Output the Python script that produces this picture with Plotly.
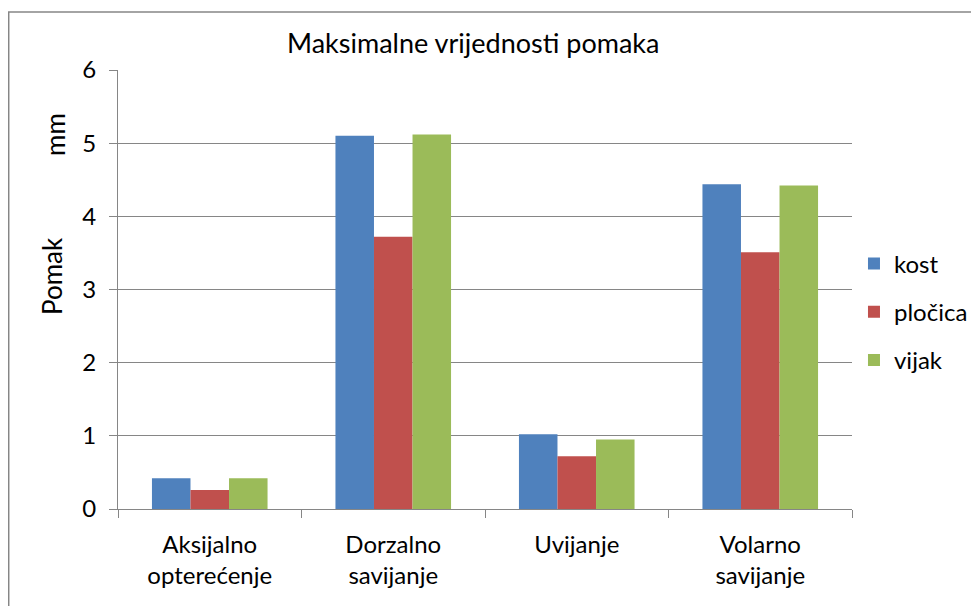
import plotly.graph_objects as go

categories = ["Aksijalno<br>opterećenje", "Dorzalno<br>savijanje", "Uvijanje", "Volarno<br>savijanje"]
series_names = ["kost", "pločica", "vijak"]
kost = [0.42, 5.10, 1.02, 4.44]
plocica = [0.26, 3.72, 0.72, 3.51]
vijak = [0.42, 5.12, 0.95, 4.42]
colors = ["#4F81BD", "#C0504D", "#9BBB59"]
y_ticks = [0, 1, 2, 3, 4, 5, 6]

FONT = "Lato"
GRAY = "#868686"

fig = go.Figure()
for i, (name, vals) in enumerate(zip(series_names, [kost, plocica, vijak])):
    fig.add_trace(go.Bar(
        x=categories, y=vals, name=name,
        marker=dict(color=colors[i], line=dict(width=0)),
        legendgroup=name,
    ))

# page body has an 8px margin, so the figure is 8px smaller and margins shifted
fig.update_layout(
    width=971, height=598, autosize=False,
    margin=dict(l=110, r=127, t=62, b=97, autoexpand=False),
    paper_bgcolor="white", plot_bgcolor="white",
    font=dict(family=FONT, size=24, color="#000000"),
    barmode="group", bargap=0.37, bargroupgap=0,
    showlegend=True,
    legend=dict(x=1.0027, xanchor="left", y=0.449, yanchor="middle",
                font=dict(family=FONT, size=24), tracegroupgap=14,
                bgcolor="rgba(0,0,0,0)", itemwidth=30),
    xaxis=dict(
        type="category", showgrid=False, showline=True, linecolor=GRAY, linewidth=1,
        ticks="outside", tickson="boundaries", ticklen=8, tickcolor=GRAY, tickwidth=1,
        tickfont=dict(family=FONT, size=24), fixedrange=True, ticklabelstandoff=14,
    ),
    yaxis=dict(
        range=[0, 6], tickvals=y_ticks, showgrid=True, gridcolor=GRAY, gridwidth=1,
        showline=True, linecolor=GRAY, linewidth=1, zeroline=False,
        ticks="outside", ticklen=8, tickcolor=GRAY, tickwidth=1,
        tickfont=dict(family=FONT, size=24), fixedrange=True, ticklabelstandoff=8,
    ),
    shapes=[dict(type="rect", xref="paper", yref="paper",
                 x0=-0.1489, x1=1.181, y0=-0.2415, y1=1.1321,
                 line=dict(color=GRAY, width=1.5), fillcolor="rgba(0,0,0,0)", layer="below")],
    annotations=[
        dict(text="Maksimalne vrijednosti pomaka", xref="paper", yref="paper",
             x=0.4837, y=(509 - 43) / 439, xanchor="center", yanchor="middle",
             showarrow=False, font=dict(family=FONT, size=27)),
        dict(text="mm", xref="paper", yref="paper", x=(55 - 118) / 734, y=(509 - 135) / 439,
             xanchor="center", yanchor="middle", textangle=-90, showarrow=False,
             font=dict(family=FONT, size=26)),
        dict(text="Pomak", xref="paper", yref="paper", x=(52 - 118) / 734, y=(509 - 276) / 439,
             xanchor="center", yanchor="middle", textangle=-90, showarrow=False,
             font=dict(family=FONT, size=26)),
    ],
)

fig.write_html("out.html")
